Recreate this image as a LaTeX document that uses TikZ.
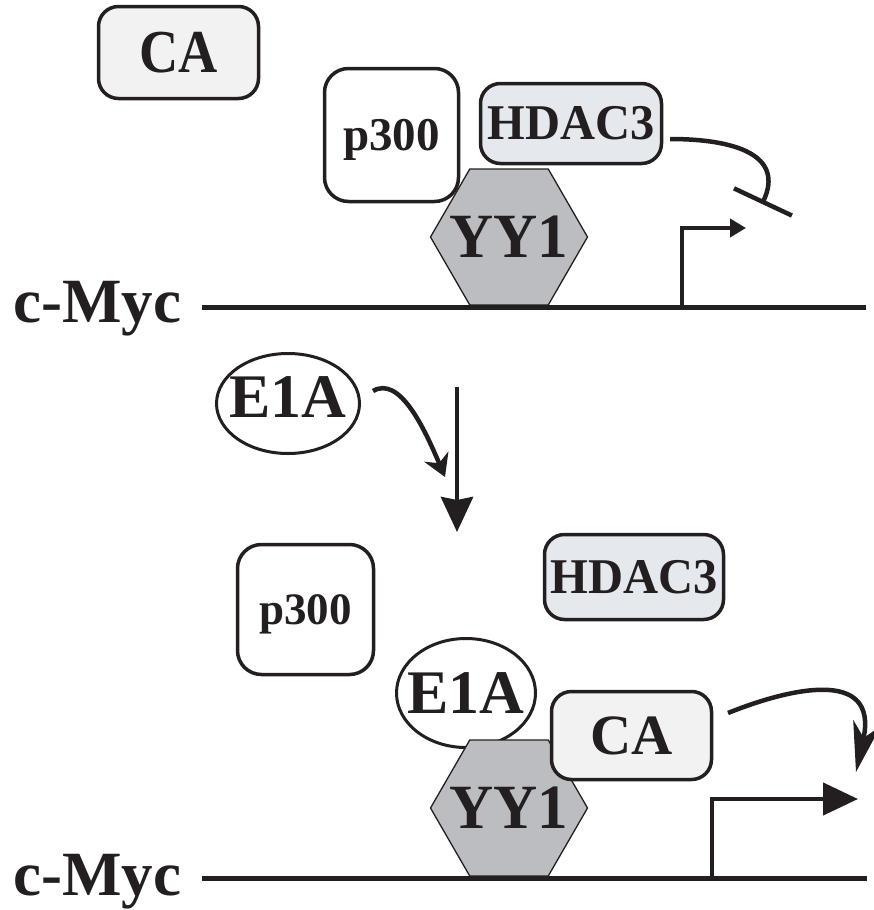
\documentclass[tikz,border=0pt]{standalone}
\usepackage{fontspec}
\setmainfont{Liberation Serif}
\newfontfamily\fsA{Liberation Serif}[FakeStretch=0.89]
\newfontfamily\fsB{Liberation Serif}[FakeStretch=0.97]
\usetikzlibrary{shapes.geometric,arrows.meta}
\definecolor{ink}{HTML}{231F20}
\definecolor{cafill}{HTML}{F3F2F3}
\definecolor{hdfill}{HTML}{E5E8EC}
\definecolor{yyfill}{HTML}{BCBDC0}
\newcommand{\fsz}[1]{\fontsize{#1}{#1}\selectfont\bfseries}
\newcommand{\nowidth}[1]{\makebox[0pt]{#1}}
\begin{document}
\begin{tikzpicture}[x=1pt,y=-1pt,
  protbox/.style={draw=ink, line width=3.5pt, rounded corners=20pt, inner sep=0pt, outer sep=0pt, text=ink},
  cabox/.style={protbox, fill=cafill},
  hdbox/.style={protbox, fill=hdfill},
  pbox/.style={protbox, fill=white, rounded corners=24pt, text depth=0pt},
  e1a/.style={ellipse, draw=ink, line width=3pt, fill=white, inner sep=0pt, outer sep=0pt, text=ink},
  yy/.style={regular polygon, regular polygon sides=6, minimum size=157pt, draw=ink, line width=1.3pt, fill=yyfill, inner sep=0pt, outer sep=0pt, text=ink},
  genelabel/.style={anchor=base west, inner sep=0pt, text=ink},
  dna/.style={draw=ink, line width=5pt},
  conn/.style={draw=ink, line width=4.5pt},
]
\useasboundingbox (0,0) rectangle (874,910);

% ---------- top state ----------
\node[cabox, minimum width=160pt, minimum height=92pt] (caT) at (178.5,52.5) {\fsA\fsz{61}CA};
\node[yy] (yyT) at (509,237) {\nowidth{\fsB\fsz{63}YY1}};
\node[pbox, minimum width=134pt, minimum height=133pt] (pT) at (391.5,135) {\fsz{47}p300};
\node[hdbox, minimum width=181pt, minimum height=80pt] (hdT) at (571,123.5) {\fsB\fsz{50}HDAC3};
\node[genelabel] (mycT) at (13,322) {\fsz{63}c-Myc};

\coordinate (dnaT1) at (202,307);
\coordinate (dnaT2) at (866,307);
\draw[dna] (dnaT1) -- (dnaT2);

\coordinate (tssT) at (682,307);
\coordinate (tssTtip) at (746,228);
\draw[conn, -{Triangle[length=16pt,width=18pt]}] (tssT) |- (tssTtip);

\coordinate (inhS) at (670,139);
\coordinate (inhE) at (762,204);
\draw[conn, -{Bar[width=64pt]}] (inhS) .. controls (735,139) and (785,155) .. (inhE);

% ---------- transition ----------
\node[e1a, minimum width=143pt, minimum height=100pt, text depth=12pt] (e1aM) at (288,403.5) {\nowidth{\fsz{62}E1A}};
\coordinate (e1aS) at (373,391);
\coordinate (e1aE) at (445,477);
\draw[conn, -{Stealth[length=22pt,width=26pt,inset=7pt]}] (e1aS) .. controls (400,375) and (425,430) .. (e1aE);

\coordinate (vS) at (457,387);
\coordinate (vE) at (457,532);
\draw[conn, -{Stealth[length=35pt,width=32pt,inset=3pt]}] (vS) -- (vE);

% ---------- bottom state ----------
\node[pbox, minimum width=136pt, minimum height=130pt] (pB) at (305.5,609.5) {\fsz{45}p300};
\node[hdbox, minimum width=179pt, minimum height=85pt] (hdB) at (634,577) {\fsB\fsz{50}HDAC3};
\node[e1a, minimum width=139pt, minimum height=109pt] (e1aB) at (466,693) {\nowidth{\fsz{62}E1A}};
\node[yy] (yyB) at (509,808) {\nowidth{\fsB\fsz{63}YY1}};
\node[cabox, minimum width=160pt, minimum height=88pt] (caB) at (631.5,735.5) {\fsz{57}CA};
\node[genelabel] (mycB) at (13,895) {\fsz{63}c-Myc};

\coordinate (dnaB1) at (202,878);
\coordinate (dnaB2) at (867,878);
\draw[dna] (dnaB1) -- (dnaB2);

\coordinate (tssB) at (712,878);
\coordinate (tssBtip) at (858,799);
\draw[conn, -{Triangle[length=35pt,width=32pt]}] (tssB) |- (tssBtip);

\coordinate (caS) at (728,713);
\coordinate (caE) at (856,772);
\draw[conn, -{Stealth[length=50pt,width=28pt,inset=15pt]}] (caS) .. controls (785,690) and (880,665) .. (caE);
\end{tikzpicture}
\end{document}
